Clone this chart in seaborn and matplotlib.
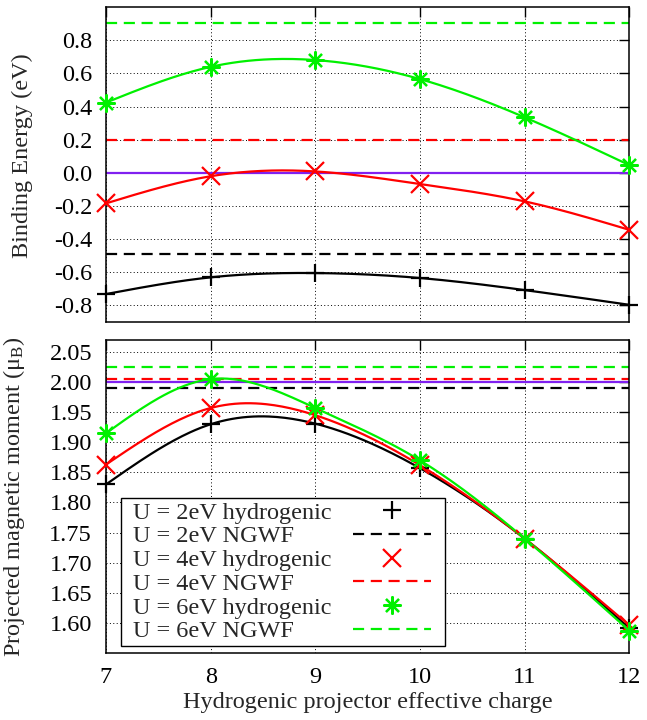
import numpy as np
import pandas as pd
import matplotlib
matplotlib.use("Agg")
import matplotlib.pyplot as plt
from matplotlib.lines import Line2D
from matplotlib.offsetbox import HPacker, DrawingArea
import seaborn as sns

# ---------------- data ----------------
charge = [7, 8, 9, 10, 11, 12]

be_u2 = [-0.733, -0.632, -0.606, -0.636, -0.709, -0.798]
be_u4 = [-0.185, -0.021, 0.008, -0.068, -0.173, -0.345]
be_u6 = [0.424, 0.640, 0.681, 0.566, 0.335, 0.046]
be_ngwf = [-0.49, 0.20, 0.905]      # U = 2, 4, 6 eV
be_ref = 0.0

mm_u2 = [1.830, 1.930, 1.931, 1.857, 1.740, 1.591]
mm_u4 = [1.863, 1.957, 1.945, 1.862, 1.740, 1.596]
mm_u6 = [1.915, 2.005, 1.957, 1.870, 1.740, 1.587]
mm_ngwf = [1.991, 2.005, 2.025]
mm_ref = 2.0

be_ticks = ["-0.8", "-0.6", "-0.4", "-0.2", "0.0", "0.2", "0.4", "0.6", "0.8"]
mm_ticks = ["1.60", "1.65", "1.70", "1.75", "1.80", "1.85", "1.90", "1.95", "2.00", "2.05"]

labels_h = ["U = 2eV hydrogenic", "U = 4eV hydrogenic", "U = 6eV hydrogenic"]
labels_n = ["U = 2eV NGWF", "U = 4eV NGWF", "U = 6eV NGWF"]

colors = ["#000000", "#ff0000", "#00f000"]
ref_color = "#8020f0"
asterisk = (8, 2, 0)
markers = ["+", "x", asterisk]


def natural_spline(x, y, n=200):
    x = np.asarray(x, float)
    y = np.asarray(y, float)
    m = len(x)
    h = np.diff(x)
    A = np.zeros((m, m))
    r = np.zeros(m)
    A[0, 0] = 1
    A[-1, -1] = 1
    for i in range(1, m - 1):
        A[i, i - 1] = h[i - 1]
        A[i, i] = 2 * (h[i - 1] + h[i])
        A[i, i + 1] = h[i]
        r[i] = 3 * ((y[i + 1] - y[i]) / h[i] - (y[i] - y[i - 1]) / h[i - 1])
    c = np.linalg.solve(A, r)
    b = (y[1:] - y[:-1]) / h - h * (2 * c[:-1] + c[1:]) / 3
    d = (c[1:] - c[:-1]) / (3 * h)
    xs = np.linspace(x[0], x[-1], n)
    idx = np.clip(np.searchsorted(x, xs) - 1, 0, m - 2)
    dx = xs - x[idx]
    ys = y[idx] + b[idx] * dx + c[idx] * dx ** 2 + d[idx] * dx ** 3
    return xs, ys


sns.set_theme(style="white")
plt.rcParams["font.family"] = ["Liberation Serif", "DejaVu Serif"]
plt.rcParams["mathtext.fontset"] = "custom"
plt.rcParams["mathtext.rm"] = "Liberation Serif"
plt.rcParams["mathtext.it"] = "Liberation Serif:italic"

FS = 17.5
fig = plt.figure(figsize=(6.47, 7.2), dpi=100)
ax1 = fig.add_axes([0.1638, 0.5532, 0.8089, 0.4367])
ax2 = fig.add_axes([0.1638, 0.0931, 0.8089, 0.4347])

dash = (5, 3)
LW = 1.6
MS = 13


def draw(ax, series, ngwf, ref):
    ax.axhline(ref, color=ref_color, lw=LW, zorder=2)
    for vals, ng, col, mk in zip(series, ngwf, colors, markers):
        xs, ys = natural_spline(charge, vals)
        df = pd.DataFrame({"x": xs, "y": ys})
        sns.lineplot(data=df, x="x", y="y", ax=ax, color=col, lw=LW,
                     estimator=None, sort=False, zorder=3)
        ax.plot(charge, vals, linestyle="none", marker=mk, color=col,
                ms=MS, mew=LW, zorder=4, clip_on=False)
        ax.axhline(ng, color=col, lw=LW, dashes=dash, zorder=2)


draw(ax1, [be_u2, be_u4, be_u6], be_ngwf, be_ref)
draw(ax2, [mm_u2, mm_u4, mm_u6], mm_ngwf, mm_ref)

for ax in (ax1, ax2):
    ax.set_xlim(7, 12)
    ax.set_xticks(charge)
    ax.grid(True, color="black", lw=0.7, linestyle=(0, (1, 2.5)))
    ax.tick_params(direction="in", length=7, width=1.0, top=True, right=True,
                   labelsize=FS, pad=10, colors="black")
    for s in ax.spines.values():
        s.set_color("black")
        s.set_linewidth(1.1)
    ax.set_xlabel("")
    ax.set_ylabel("")

ax1.set_ylim(-0.9, 1.0)
ax1.set_yticks([float(t) for t in be_ticks])
ax1.set_yticklabels(be_ticks)
ax1.tick_params(labelbottom=False)
ax1.set_ylabel("Binding Energy (eV)", fontsize=FS)
ax1.yaxis.set_label_coords(-0.1395, 0.527)

ax2.set_ylim(1.55, 2.07)
ax2.set_yticks([float(t) for t in mm_ticks])
ax2.set_yticklabels(mm_ticks)
ax2.set_ylabel("Projected magnetic moment (μ$_\\mathrm{B}$)", fontsize=FS)
ax2.yaxis.set_label_coords(-0.151, 0.5)
ax2.set_xlabel("Hydrogenic projector effective charge", fontsize=FS, labelpad=3)

handles = []
labs = []
for i in range(3):
    handles.append(Line2D([], [], linestyle="none", marker=markers[i], color=colors[i],
                          ms=MS, mew=LW))
    labs.append(labels_h[i])
    handles.append(Line2D([], [], color=colors[i], lw=LW, dashes=dash))
    labs.append(labels_n[i])

HTP = 0.9
leg = ax2.legend(handles, labs, loc="lower left", bbox_to_anchor=(0.0287, 0.0224),
                 borderaxespad=0, markerfirst=False, fontsize=FS, handlelength=3.2,
                 handletextpad=HTP, labelspacing=0.07, borderpad=0.15, fancybox=False,
                 framealpha=1, edgecolor="black")
leg.get_frame().set_linewidth(1.0)
leg.set_zorder(10)

# left-align the legend texts, keep the samples on the right, add side padding
fig.canvas.draw()
rend = fig.canvas.get_renderer()
items = [it for col in leg._legend_handle_box.get_children() for it in col.get_children()]
tw = [it.get_children()[0].get_bbox(rend).width for it in items]
maxw = max(tw)
LEFT_PAD = 6.0   # points
RIGHT_PAD = 7.5  # points
for it, w in zip(items, tw):
    it.sep = HTP * FS + (maxw - w) * 72.0 / fig.dpi
    tb = it._children[0]
    it._children[0] = HPacker(children=[DrawingArea(LEFT_PAD, 0), tb], sep=0, pad=0,
                              align="baseline")
    it._children[1].width += RIGHT_PAD

fig.savefig("out.png", dpi=100)
